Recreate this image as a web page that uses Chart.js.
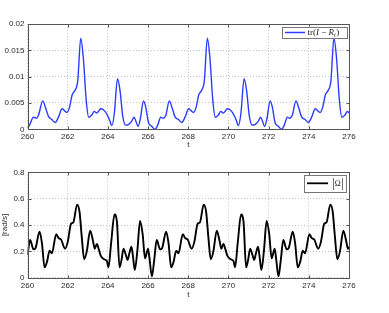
<!DOCTYPE html>
<html>
<head>
<meta charset="utf-8">
<script src="https://cdn.jsdelivr.net/npm/chart.js@4.4.0/dist/chart.umd.min.js"></script>
<style>
  html, body { margin: 0; padding: 0; background: #fff; }
  body { width: 389px; height: 313px; position: relative; overflow: hidden; }
  canvas { position: absolute; left: 0; }
  #top-chart { top: 0; }
  #bottom-chart { top: 150px; }
</style>
</head>
<body>
<canvas id="top-chart" width="389" height="150"></canvas>
<canvas id="bottom-chart" width="389" height="163"></canvas>
<script>
// tick labels
const tTicks = [260, 262, 264, 266, 268, 270, 272, 274, 276];
const trTicks = [0, 0.005, 0.01, 0.015, 0.02];
const omegaTicks = [0, 0.2, 0.4, 0.6, 0.8];

// tr(I - R_t)
const trTimes = [
    260.00, 260.10, 260.30, 260.45, 260.55, 260.76, 260.88, 261.05, 261.20, 261.38,
    261.55, 261.72, 261.85, 261.96, 262.10, 262.22, 262.35, 262.50, 262.65, 262.78,
    262.92, 263.05, 263.20, 263.32, 263.45, 263.65, 263.78, 263.95, 264.08, 264.20,
    264.32, 264.48, 264.60, 264.74, 264.88, 265.02, 265.18, 265.30, 265.40, 265.50,
    265.62, 265.77, 265.88, 266.02, 266.18, 266.35, 266.48, 266.63, 266.75, 266.88,
    267.06, 267.18, 267.35, 267.50, 267.68, 267.85, 268.02, 268.15, 268.26, 268.40,
    268.52, 268.65, 268.80, 268.95, 269.08, 269.22, 269.35, 269.50, 269.62, 269.75,
    269.95, 270.08, 270.25, 270.38, 270.50, 270.62, 270.78, 270.90, 271.04, 271.18,
    271.32, 271.48, 271.60, 271.70, 271.80, 271.92, 272.07, 272.18, 272.32, 272.48,
    272.65, 272.78, 272.93, 273.05, 273.18, 273.36, 273.48, 273.65, 273.80, 273.98,
    274.15, 274.32, 274.45, 274.56, 274.70, 274.82, 274.95, 275.10, 275.25, 275.38,
    275.52, 275.65, 275.80, 275.92, 276.00
];
const trValues = [
    0.0002, 0.0008, 0.0023, 0.0021, 0.0027, 0.0054, 0.0043, 0.0024, 0.0019, 0.0013,
    0.0024, 0.0039, 0.0035, 0.0032, 0.0043, 0.0065, 0.0073, 0.0092, 0.0173, 0.0135,
    0.0056, 0.0023, 0.0027, 0.0034, 0.0031, 0.0039, 0.0037, 0.0029, 0.0018, 0.0007,
    0.0030, 0.0096, 0.0075, 0.0025, 0.0008, 0.0009, 0.0015, 0.0023, 0.0015, 0.0005,
    0.0021, 0.0054, 0.0043, 0.0013, 0.0006, 0.0000, 0.0008, 0.0023, 0.0021, 0.0026,
    0.0054, 0.0043, 0.0023, 0.0019, 0.0013, 0.0024, 0.0039, 0.0035, 0.0032, 0.0043,
    0.0065, 0.0073, 0.0092, 0.0173, 0.0135, 0.0056, 0.0023, 0.0027, 0.0034, 0.0031,
    0.0039, 0.0037, 0.0029, 0.0018, 0.0007, 0.0030, 0.0096, 0.0075, 0.0025, 0.0008,
    0.0009, 0.0015, 0.0023, 0.0015, 0.0005, 0.0021, 0.0054, 0.0043, 0.0013, 0.0006,
    0.0000, 0.0008, 0.0023, 0.0021, 0.0027, 0.0054, 0.0043, 0.0023, 0.0019, 0.0013,
    0.0024, 0.0039, 0.0035, 0.0032, 0.0043, 0.0065, 0.0073, 0.0092, 0.0173, 0.0135,
    0.0056, 0.0023, 0.0027, 0.0034, 0.0031
];

// |Omega| in rad/s
const omegaTimes = [
    260.00, 260.13, 260.30, 260.40, 260.60, 260.72, 260.85, 260.97, 261.10, 261.21,
    261.43, 261.55, 261.67, 261.87, 262.00, 262.17, 262.28, 262.47, 262.59, 262.70,
    262.82, 262.95, 263.12, 263.25, 263.35, 263.45, 263.55, 263.65, 263.81, 263.95,
    264.03, 264.16, 264.33, 264.45, 264.58, 264.68, 264.78, 264.90, 264.98, 265.07,
    265.17, 265.25, 265.34, 265.47, 265.60, 265.73, 265.85, 266.00, 266.08, 266.19,
    266.31, 266.43, 266.60, 266.70, 266.90, 267.02, 267.15, 267.27, 267.40, 267.51,
    267.73, 267.85, 267.97, 268.17, 268.30, 268.47, 268.58, 268.77, 268.89, 269.00,
    269.12, 269.25, 269.42, 269.55, 269.65, 269.75, 269.85, 269.95, 270.11, 270.25,
    270.33, 270.46, 270.63, 270.75, 270.88, 270.98, 271.08, 271.20, 271.28, 271.37,
    271.47, 271.55, 271.64, 271.77, 271.90, 272.03, 272.15, 272.30, 272.38, 272.49,
    272.61, 272.73, 272.90, 273.00, 273.20, 273.32, 273.45, 273.57, 273.70, 273.81,
    274.03, 274.15, 274.27, 274.47, 274.60, 274.77, 274.88, 275.07, 275.19, 275.30,
    275.42, 275.55, 275.72, 275.85, 275.95, 276.00
];
const omegaValues = [
    0.170, 0.286, 0.215, 0.225, 0.350, 0.260, 0.078, 0.120, 0.205, 0.185,
    0.330, 0.300, 0.290, 0.220, 0.270, 0.410, 0.420, 0.555, 0.500, 0.310,
    0.140, 0.200, 0.357, 0.286, 0.220, 0.256, 0.215, 0.165, 0.140, 0.127,
    0.078, 0.260, 0.480, 0.425, 0.078, 0.135, 0.220, 0.170, 0.134, 0.185,
    0.235, 0.160, 0.058, 0.210, 0.430, 0.330, 0.147, 0.220, 0.135, 0.010,
    0.140, 0.286, 0.215, 0.225, 0.350, 0.260, 0.078, 0.120, 0.205, 0.185,
    0.330, 0.300, 0.290, 0.220, 0.270, 0.410, 0.420, 0.555, 0.500, 0.310,
    0.140, 0.200, 0.357, 0.286, 0.220, 0.256, 0.215, 0.165, 0.140, 0.127,
    0.078, 0.260, 0.480, 0.425, 0.078, 0.135, 0.220, 0.170, 0.134, 0.185,
    0.235, 0.160, 0.058, 0.210, 0.430, 0.330, 0.147, 0.220, 0.135, 0.010,
    0.140, 0.286, 0.215, 0.225, 0.350, 0.260, 0.078, 0.120, 0.205, 0.185,
    0.330, 0.300, 0.290, 0.220, 0.270, 0.410, 0.420, 0.555, 0.500, 0.310,
    0.140, 0.200, 0.357, 0.286, 0.220, 0.235
];

const tickFont = { family: "'Liberation Sans', Arial, sans-serif", size: 8 };
const tickColor = '#2a2a2a';
const frameColor = '#555';

function fmt(v) {
    return String(Math.round(v * 10000) / 10000);
}

// box around the plot area plus small inward ticks, matlab style
const framePlugin = {
    id: 'frame',
    afterDatasetsDraw(chart) {
        const { ctx, chartArea: a, scales } = chart;
        ctx.save();
        ctx.strokeStyle = frameColor;
        ctx.lineWidth = 1;
        const l = Math.round(a.left) + 0.5, r = Math.round(a.right) + 0.5;
        const t = Math.round(a.top) + 0.5, b = Math.round(a.bottom) + 0.5;
        ctx.strokeRect(l, t, r - l, b - t);
        ctx.beginPath();
        scales.x.ticks.forEach(tk => {
            const x = Math.round(scales.x.getPixelForValue(tk.value)) + 0.5;
            ctx.moveTo(x, b); ctx.lineTo(x, b - 3);
            ctx.moveTo(x, t); ctx.lineTo(x, t + 3);
        });
        scales.y.ticks.forEach(tk => {
            const y = Math.round(scales.y.getPixelForValue(tk.value)) + 0.5;
            ctx.moveTo(l, y); ctx.lineTo(l + 3, y);
            ctx.moveTo(r, y); ctx.lineTo(r - 3, y);
        });
        ctx.stroke();
        ctx.restore();
    }
};

function drawLegendBox(ctx, x, y, w, h) {
    ctx.fillStyle = '#fff';
    ctx.fillRect(x, y, w, h);
    ctx.strokeStyle = '#777';
    ctx.lineWidth = 1;
    ctx.strokeRect(Math.round(x) + 0.5, Math.round(y) + 0.5, Math.round(w), Math.round(h));
}

const serif = "'Liberation Serif', 'DejaVu Serif', serif";

const trLegend = {
    id: 'trLegend',
    afterDraw(chart) {
        const { ctx, chartArea: a } = chart;
        const w = 65, h = 11;
        const x = a.right - 2.5 - w, y = a.top + 2.5;
        ctx.save();
        drawLegendBox(ctx, x, y, w, h);
        const cy = y + h / 2 + 0.5;
        ctx.strokeStyle = '#2b3dff';
        ctx.lineWidth = 1.5;
        ctx.beginPath();
        ctx.moveTo(x + 3.5, cy); ctx.lineTo(x + 23.5, cy);
        ctx.stroke();
        ctx.fillStyle = '#222';
        ctx.textBaseline = 'alphabetic';
        const base = y + h - 2.5;
        let px = x + 26;
        const parts = [
            ['tr(', '9px ' + serif, 0],
            ['I', 'italic 9px ' + serif, 0],
            [' \u2212 ', '9px ' + serif, 0],
            ['R', 'italic 9px ' + serif, 0],
            ['t', 'italic 6px ' + serif, 1.5],
            [')', '9px ' + serif, 0]
        ];
        parts.forEach(([s, f, dy]) => {
            ctx.font = f;
            ctx.fillText(s, px, base + dy);
            px += ctx.measureText(s).width + (s === 't' ? 0.5 : 0);
        });
        ctx.restore();
    }
};

const omegaLegend = {
    id: 'omegaLegend',
    afterDraw(chart) {
        const { ctx, chartArea: a } = chart;
        const w = 42, h = 17;
        const x = a.right - 3.5 - w, y = a.top + 2.5;
        ctx.save();
        drawLegendBox(ctx, x, y, w, h);
        const cy = y + h / 2;
        ctx.strokeStyle = '#000';
        ctx.lineWidth = 1.8;
        ctx.beginPath();
        ctx.moveTo(x + 3.5, cy); ctx.lineTo(x + 24.5, cy);
        ctx.stroke();
        ctx.fillStyle = '#222';
        ctx.font = '13px ' + serif;
        ctx.textBaseline = 'middle';
        ctx.fillText('|', x + 28.5, cy);
        ctx.fillText('|', x + 37.5, cy);
        ctx.font = '8px ' + serif;
        ctx.fillText('\u03A9', x + 31.2, cy + 0.5);
        ctx.restore();
    }
};

function makeChart(id, times, values, yTicks, lineColor, lineWidth, padTop, padBottom, xHeight, yTitle, legendPlugin) {
    const points = times.map((t, i) => ({ x: t, y: values[i] }));
    return new Chart(document.getElementById(id), {
        type: 'line',
        data: {
            datasets: [{
                data: points,
                borderColor: lineColor,
                borderWidth: lineWidth,
                pointRadius: 0,
                fill: false,
                cubicInterpolationMode: 'monotone'
            }]
        },
        options: {
            responsive: false,
            animation: false,
            devicePixelRatio: 1,
            layout: { padding: { top: padTop, right: 40, bottom: padBottom, left: 0 } },
            plugins: { legend: { display: false }, tooltip: { enabled: false } },
            scales: {
                x: {
                    type: 'linear',
                    min: 260,
                    max: 276,
                    afterBuildTicks: s => { s.ticks = tTicks.map(v => ({ value: v })); },
                    afterFit: s => { s.height = xHeight; },
                    ticks: { font: tickFont, color: tickColor, padding: 3, maxRotation: 0, autoSkip: false, callback: v => String(v) },
                    grid: { color: '#c4c4c4', lineWidth: 1, drawTicks: false },
                    border: { display: false, dash: [1, 2] },
                    title: { display: true, text: 't', font: tickFont, color: tickColor, padding: 0 }
                },
                y: {
                    min: yTicks[0],
                    max: yTicks[yTicks.length - 1],
                    afterBuildTicks: s => { s.ticks = yTicks.map(v => ({ value: v })); },
                    afterFit: s => { s.width = 27.5; },
                    ticks: { font: tickFont, color: tickColor, padding: 3, autoSkip: false, callback: v => fmt(v) },
                    grid: { color: '#c4c4c4', lineWidth: 1, drawTicks: false },
                    border: { display: false, dash: [1, 2] },
                    title: { display: !!yTitle, text: yTitle, font: tickFont, color: tickColor, padding: { top: 0, bottom: 1 } }
                }
            }
        },
        plugins: [framePlugin, legendPlugin]
    });
}

makeChart('top-chart', trTimes, trValues, trTicks, '#2b3dff', 1.4, 24, 0, 20.7, '', trLegend);
makeChart('bottom-chart', omegaTimes, omegaValues, omegaTicks, '#000', 1.9, 22.3, 13, 22.3, '[rad/s]', omegaLegend);
</script>
</body>
</html>
